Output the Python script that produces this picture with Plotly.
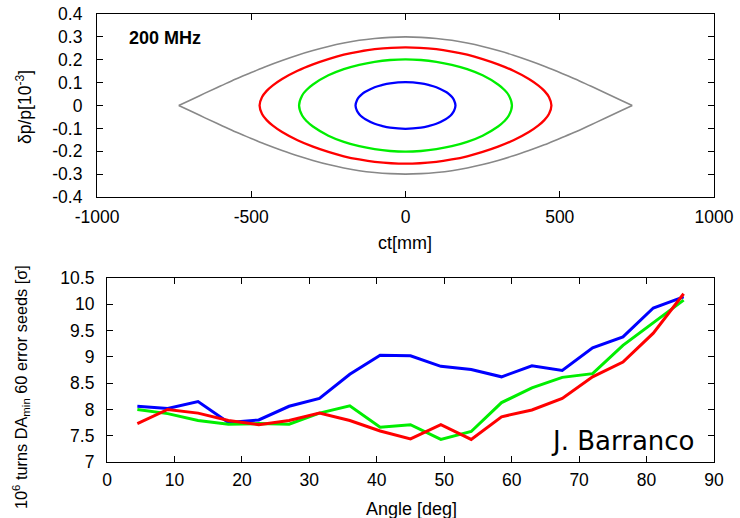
import plotly.graph_objects as go

# ---- longitudinal phase space (200 MHz bucket), upper branches, x >= 0 ----
sep_ct = [0, 50, 100, 150, 200, 250, 300, 350, 400, 450, 500, 550, 600, 650, 700, 735]
sep_dp = [0.300, 0.298, 0.293, 0.285, 0.273, 0.258, 0.240, 0.220, 0.197, 0.172, 0.144, 0.116, 0.085, 0.054, 0.022, 0.0]

red_ct = [0, 100, 150, 200, 250, 300, 350, 400, 430, 450, 465, 473]
red_dp = [0.254, 0.246, 0.236, 0.222, 0.203, 0.180, 0.152, 0.116, 0.088, 0.064, 0.037, 0.0]

green_ct = [0, 50, 100, 150, 200, 250, 300, 320, 335, 345]
green_dp = [0.202, 0.199, 0.191, 0.178, 0.159, 0.132, 0.092, 0.069, 0.044, 0.0]

blue_ct = [0, 50, 75, 100, 130, 140, 150, 157, 162]
blue_dp = [0.102, 0.097, 0.090, 0.080, 0.060, 0.051, 0.038, 0.024, 0.0]

# ---- dynamic aperture vs angle ----
angle = [4.5, 9, 13.5, 18, 22.5, 27, 31.5, 36, 40.5, 45, 49.5, 54, 58.5, 63, 67.5, 72, 76.5, 81, 85.5]
da_blue = [8.06, 8.02, 8.15, 7.75, 7.80, 8.06, 8.21, 8.67, 9.03, 9.02, 8.82, 8.76, 8.62, 8.83, 8.74, 9.17, 9.38, 9.93, 10.14]
da_green = [8.00, 7.92, 7.79, 7.72, 7.73, 7.72, 7.93, 8.07, 7.66, 7.71, 7.43, 7.58, 8.13, 8.41, 8.61, 8.68, 9.22, 9.65, 10.08]
da_red = [7.73, 8.00, 7.93, 7.79, 7.71, 7.79, 7.93, 7.79, 7.59, 7.44, 7.71, 7.43, 7.86, 7.99, 8.21, 8.62, 8.90, 9.45, 10.20]

# tick labels (plain hyphen minus)
ct_ticks = [-1000, -500, 0, 500, 1000]
ct_labels = ["-1000", "-500", "0", "500", "1000"]
dp_ticks = [-0.4, -0.3, -0.2, -0.1, 0, 0.1, 0.2, 0.3, 0.4]
dp_labels = ["-0.4", "-0.3", "-0.2", "-0.1", "0", "0.1", "0.2", "0.3", "0.4"]
ang_ticks = [0, 10, 20, 30, 40, 50, 60, 70, 80, 90]
ang_labels = [str(v) for v in ang_ticks]
da_ticks = [7, 7.5, 8, 8.5, 9, 9.5, 10, 10.5]
da_labels = ["7", "7.5", "8", "8.5", "9", "9.5", "10", "10.5"]


def closed_contour(ct, dp):
    """Full closed contour from the upper right quarter (symmetric in ct and dp)."""
    up_x = [-v for v in ct[::-1]] + ct[1:]
    up_y = dp[::-1] + dp[1:]
    lo_x = up_x[::-1]
    lo_y = [-v for v in up_y[::-1]]
    return up_x + lo_x[1:], up_y + lo_y[1:]


def separatrix(ct, dp):
    """Upper and lower branches kept as separate segments so the tips stay sharp."""
    up_x = [-v for v in ct[::-1]] + ct[1:]
    up_y = dp[::-1] + dp[1:]
    return up_x + [None] + up_x, up_y + [None] + [-v for v in up_y]


W, H = 740, 518
FONT = "Liberation Sans, Arial, Helvetica, sans-serif"

fig = go.Figure()

sx, sy = separatrix(sep_ct, sep_dp)
fig.add_trace(go.Scatter(x=sx, y=sy, mode="lines", line=dict(color="#888888", width=1.6, shape="spline"),
                         xaxis="x", yaxis="y", showlegend=False, connectgaps=False))
for ct, dp, col in [(red_ct, red_dp, "#ff0000"), (green_ct, green_dp, "#00ee00"), (blue_ct, blue_dp, "#0000ff")]:
    cx, cy = closed_contour(ct, dp)
    fig.add_trace(go.Scatter(x=cx, y=cy, mode="lines", line=dict(color=col, width=2.3, shape="spline"),
                             xaxis="x", yaxis="y", showlegend=False))

for vals, col in [(da_blue, "#0000ff"), (da_green, "#00ee00"), (da_red, "#ff0000")]:
    fig.add_trace(go.Scatter(x=angle, y=vals, mode="lines", line=dict(color=col, width=3),
                             xaxis="x2", yaxis="y2", showlegend=False))

axis_common = dict(showline=True, linecolor="black", linewidth=1.2, mirror="allticks",
                   ticks="inside", ticklen=6, tickwidth=1, tickcolor="black", automargin=False,
                   showgrid=False, zeroline=False, tickfont=dict(family=FONT, size=17.5, color="black"))

fig.update_layout(
    width=W, height=H,
    margin=dict(l=0, r=0, t=0, b=0),
    paper_bgcolor="white", plot_bgcolor="white",
    xaxis=dict(domain=[97 / W, 714 / W], range=[-1000, 1000], anchor="y",
               tickvals=ct_ticks, ticktext=ct_labels, ticklabelstandoff=4, **axis_common),
    yaxis=dict(domain=[1 - 197 / H, 1 - 14 / H], range=[-0.4, 0.4], anchor="x",
               tickvals=dp_ticks, ticktext=dp_labels, ticklabelstandoff=10, **axis_common),
    xaxis2=dict(domain=[107 / W, 714 / W], range=[0, 90], anchor="y2",
                tickvals=ang_ticks, ticktext=ang_labels, ticklabelstandoff=2, **axis_common),
    yaxis2=dict(domain=[1 - 462 / H, 1 - 278 / H], range=[7, 10.5], anchor="x2",
                tickvals=da_ticks, ticktext=da_labels, ticklabelstandoff=8, **axis_common),
)


def px_note(text, x, y, size=18, angle=0, xanchor="center", bold=False, family=FONT):
    fig.add_annotation(text=f"<b>{text}</b>" if bold else text, x=x / W, y=1 - y / H,
                       xref="paper", yref="paper", xanchor=xanchor, yanchor="middle",
                       showarrow=False, textangle=angle,
                       font=dict(family=family, size=size, color="black"))


px_note("ct[mm]", 405, 243)
px_note("Angle [deg]", 411, 509)
px_note("δp/p[10<sup>-3</sup>]", 24, 107, size=17.5, angle=-90)
px_note("10<sup>6</sup> turns DA<sub>min</sub> 60 error seeds [σ]", 21, 387, size=16.3, angle=-90)
px_note("200 MHz", 127, 38, size=18, xanchor="left", bold=True)
px_note("J. Barranco", 549, 441, size=26, xanchor="left", family="DejaVu Sans, Noto Sans, sans-serif")

fig.write_html("out.html")
